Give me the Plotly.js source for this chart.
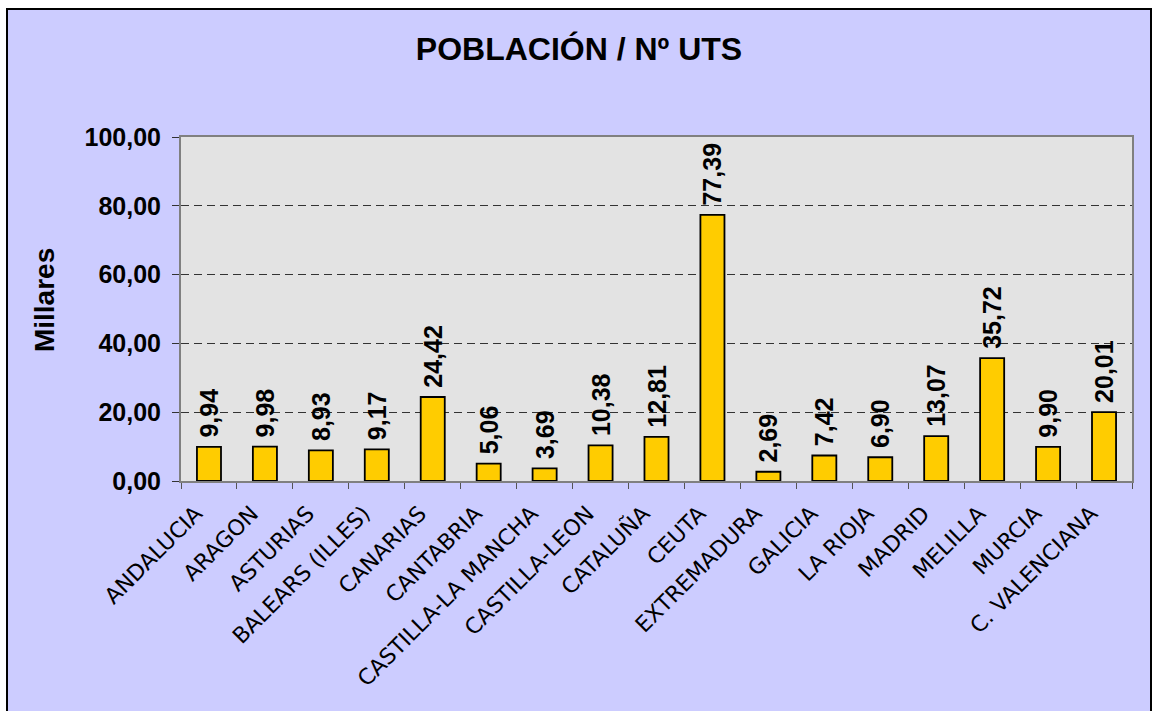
<!DOCTYPE html>
<html>
<head>
<meta charset="utf-8">
<script src="https://cdn.plot.ly/plotly-3.0.1.min.js"></script>
<style>
  html, body { margin: 0; padding: 0; background: #ffffff; overflow: hidden; }
  #frame { position: absolute; left: 6px; top: 8px; width: 1142px; height: 701px;
           border: 2px solid #000; background: #CCCCFF; }
  #chart { width: 1142px; height: 701px; }
</style>
</head>
<body>
<div id="frame"><div id="chart"></div></div>
<script>
const categories = ["ANDALUCIA", "ARAGON", "ASTURIAS", "BALEARS (ILLES)", "CANARIAS",
  "CANTABRIA", "CASTILLA-LA MANCHA", "CASTILLA-LEON", "CATALUÑA", "CEUTA",
  "EXTREMADURA", "GALICIA", "LA RIOJA", "MADRID", "MELILLA", "MURCIA", "C. VALENCIANA"];
const values = [9.94, 9.98, 8.93, 9.17, 24.42, 5.06, 3.69, 10.38, 12.81, 77.39,
  2.69, 7.42, 6.90, 13.07, 35.72, 9.90, 20.01];
const yTicks = [0, 20, 40, 60, 80, 100];
const yTickLabels = ["0,00", "20,00", "40,00", "60,00", "80,00", "100,00"];
const titleText = "POBLACIÓN / Nº UTS";
const yTitle = "Millares";

const labels = values.map(v => '\u2005<b>' + v.toFixed(2).replace('.', ',') + '</b>');

const trace = {
  type: 'bar',
  x: categories,
  y: values,
  text: labels,
  textposition: 'outside',
  textangle: -90,
  constraintext: 'none',
  cliponaxis: false,
  textfont: { family: 'Liberation Sans, Arial, sans-serif', size: 25, color: '#000' },
  marker: { color: '#FFCC00', line: { color: '#000', width: 1.8 } },
  hoverinfo: 'x+y'
};

const layout = {
  width: 1142, height: 701,
  margin: { l: 173, r: 18, t: 127, b: 230 },
  paper_bgcolor: '#CCCCFF',
  plot_bgcolor: '#E3E3E3',
  showlegend: false,
  bargap: 0.57,
  title: {
    text: '<b>' + titleText + '</b>',
    x: 0.5, xref: 'container', xanchor: 'center',
    y: 1 - 39 / 701, yref: 'container', yanchor: 'middle',
    font: { family: 'Liberation Sans, Arial, sans-serif', size: 32, color: '#000' }
  },
  xaxis: {
    type: 'category',
    tickangle: -45,
    tickfont: { family: 'DejaVu Sans, sans-serif', size: 22, color: '#000' },
    ticks: 'outside', tickson: 'boundaries', ticklen: 6, tickcolor: '#555',
    ticklabelshift: -13, ticklabelstandoff: 9,
    showline: true, linecolor: '#808080', linewidth: 2, mirror: true,
    showgrid: false, automargin: false
  },
  yaxis: {
    range: [0, 100],
    tickvals: yTicks, ticktext: yTickLabels.map(t => '<b>' + t + '</b>'),
    tickfont: { family: 'Liberation Sans, Arial, sans-serif', size: 25, color: '#000' },
    ticks: 'outside', ticklen: 7, tickcolor: '#333',
    ticklabelstandoff: 6,
    showline: true, linecolor: '#808080', linewidth: 2, mirror: true,
    showgrid: true, gridcolor: '#333', gridwidth: 1, griddash: '8px,5px',
    zeroline: false, automargin: false
  },
  annotations: [{
    text: '<b>' + yTitle + '</b>',
    xref: 'paper', yref: 'paper',
    x: (36 - 173) / 951, y: 0.526,
    xanchor: 'center', yanchor: 'middle',
    textangle: -90, showarrow: false,
    font: { family: 'Liberation Sans, Arial, sans-serif', size: 28, color: '#000' }
  }]
};

Plotly.newPlot('chart', [trace], layout, { displayModeBar: false, staticPlot: true });
</script>
</body>
</html>
